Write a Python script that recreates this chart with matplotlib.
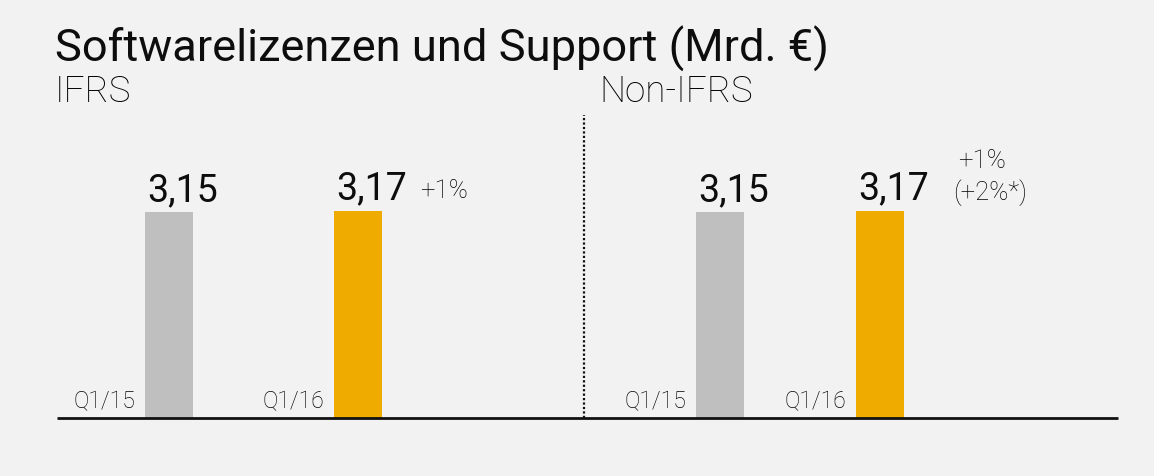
import matplotlib
matplotlib.use("Agg")
import matplotlib.pyplot as plt

# data
periods = ["Q1/15", "Q1/16"]
ifrs_values = [3.15, 3.17]
nonifrs_values = [3.15, 3.17]
value_labels = ["3,15", "3,17"]
ifrs_change = "+1%"
nonifrs_change = ["+1%", "(+2%*)"]
title = "Softwarelizenzen und Support (Mrd. €)"
sections = ["IFRS", "Non-IFRS"]

FONT = ["Roboto", "DejaVu Sans"]
plt.rcParams['font.family'] = FONT

W, H = 1154, 476
fig = plt.figure(figsize=(W / 100, H / 100), dpi=100)
fig.patch.set_facecolor("#f2f2f2")
ax = fig.add_axes([0, 0, 1, 1])
ax.set_facecolor("#f2f2f2")
base_px = 58.0           # baseline distance from bottom (pixels)
ppu = 206.0 / 3.15       # pixels per unit
ax.set_xlim(0, W)
ax.set_ylim(-base_px / ppu, (H - base_px) / ppu)
ax.axis("off")

def py(p):  # pixel-from-top to data y
    return (H - p - base_px) / ppu

colors = ["#bfbfbf", "#f0ab00"]
light = "#000000"
bw = 48
groups = [([169, 358], ifrs_values), ([720, 880], nonifrs_values)]
for centers, vals in groups:
    ax.bar(centers, vals, width=bw, color=colors, zorder=2)
    for c, v, lab, per in zip(centers, vals, value_labels, periods):
        ax.text(c - bw / 2 + 2, v + 11 / ppu, lab, ha="left", va="baseline",
                fontsize=27, color="#0d0d0d")
        ax.text(c - bw / 2 - 10, 10 / ppu, per, ha="right", va="baseline",
                fontsize=16.5, color=light, fontweight="light")

# changes
ax.text(420, py(198), ifrs_change, ha="left", va="baseline", fontsize=18.5,
        color=light, fontweight="light")
ax.text(982, py(168), nonifrs_change[0], ha="center", va="baseline", fontsize=18.5,
        color=light, fontweight="light")
ax.text(990, py(200), nonifrs_change[1], ha="center", va="baseline", fontsize=18.5,
        color=light, fontweight="light")

# baseline and divider
ax.plot([57, 1118], [0, 0], color="#111111", lw=2.0, solid_capstyle="butt", zorder=3)
ax.plot([584, 584], [0, py(115)], color="#111111", lw=1.6, ls=(0, (1, 1)), zorder=3)

# title & sections
fig.text(55 / W, 1 - 62 / H, title, ha="left", va="baseline", fontsize=32.6, color="#0d0d0d")
fig.text(55 / W, 1 - 102 / H, sections[0], ha="left", va="baseline", fontsize=26.5,
         color=light, fontweight="light")
fig.text(599 / W, 1 - 102 / H, sections[1], ha="left", va="baseline", fontsize=26.5,
         color=light, fontweight="light")

fig.savefig("out.png", dpi=100, facecolor=fig.get_facecolor())
